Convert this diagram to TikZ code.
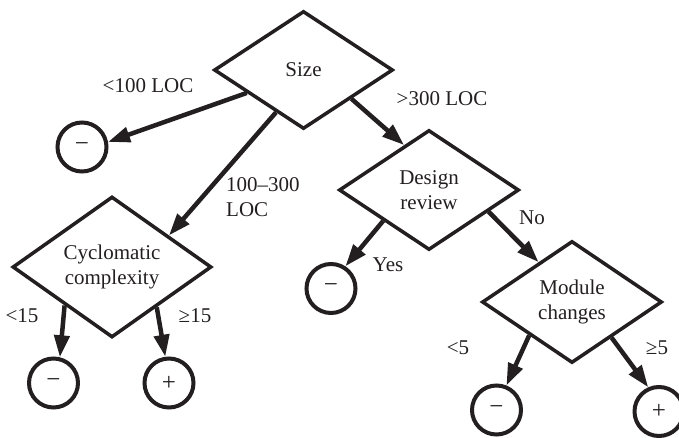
\documentclass[tikz,border=0pt]{standalone}
\usepackage{fontspec}
\setmainfont{Liberation Serif}
\usetikzlibrary{shapes.geometric,arrows.meta}
\definecolor{ink}{HTML}{231F20}
\begin{document}
\begin{tikzpicture}[x=1pt,y=-1pt,
  every node/.style={font=\fontsize{21}{25}\selectfont, text=ink},
  dia/.style={diamond, draw=ink, line width=3.5pt, inner sep=0pt, align=center},
  leaf/.style={circle, draw=ink, line width=4pt, minimum size=49pt, inner sep=0pt, font=\fontsize{25}{25}\selectfont},
  lbl/.style={inner sep=0pt},
  arr/.style={draw=ink, line width=4.5pt, -{Triangle[length=22pt,width=15pt]}}]
\useasboundingbox (0,0) rectangle (679,438);
% decision nodes
\node[dia, minimum width=179pt, minimum height=118pt] (size) at (303.5,70) {Size};
\node[dia, minimum width=180pt, minimum height=120pt] (design) at (429,190) {Design\\review};
\node[dia, minimum width=199pt, minimum height=119pt] (cyc) at (112,267) {Cyclomatic\\complexity};
\node[dia, minimum width=180pt, minimum height=122pt] (mod) at (572,302) {Module\\changes};
% leaves
\node[leaf] (m1) at (82,147) {−};
\node[leaf] (m2) at (53.5,383) {−};
\node[leaf] (p1) at (169,383) {+};
\node[leaf] (m3) at (331,288.5) {−};
\node[leaf] (m4) at (496.5,410) {−};
\node[leaf] (p2) at (659,411.5) {+};
% connectors
\draw[arr] (size.202.5) -- (m1.11);
\draw[arr] (size.237.5) -- (cyc.29.5);
\draw[arr] (size.329.9) -- (design.119);
\draw[arr] (design.214.8) -- (m3.57.9);
\draw[arr] (design.340.2) -- (mod.130.4);
\draw[arr] (cyc.219.1) -- (m2.76.9);
\draw[arr] (cyc.318) -- (p1.98);
\draw[arr] (mod.218.8) -- (m4.68.7);
\draw[arr] (mod.318.1) -- (p2.114);
% labels
\node[lbl] (t1) at (148,86) {<100 LOC};
\node[lbl, align=left, anchor=west] (t2) at (226,197.5) {100–300\\LOC};
\node[lbl] (t3) at (442,99) {>300 LOC};
\node[lbl] (t4) at (388,265) {Yes};
\node[lbl] (t5) at (532,218) {No};
\node[lbl] (t6) at (22,316) {<15};
\node[lbl] (t7) at (195,316) {≥15};
\node[lbl] (t8) at (458,348) {<5};
\node[lbl] (t9) at (657,348) {≥5};
\end{tikzpicture}
\end{document}
